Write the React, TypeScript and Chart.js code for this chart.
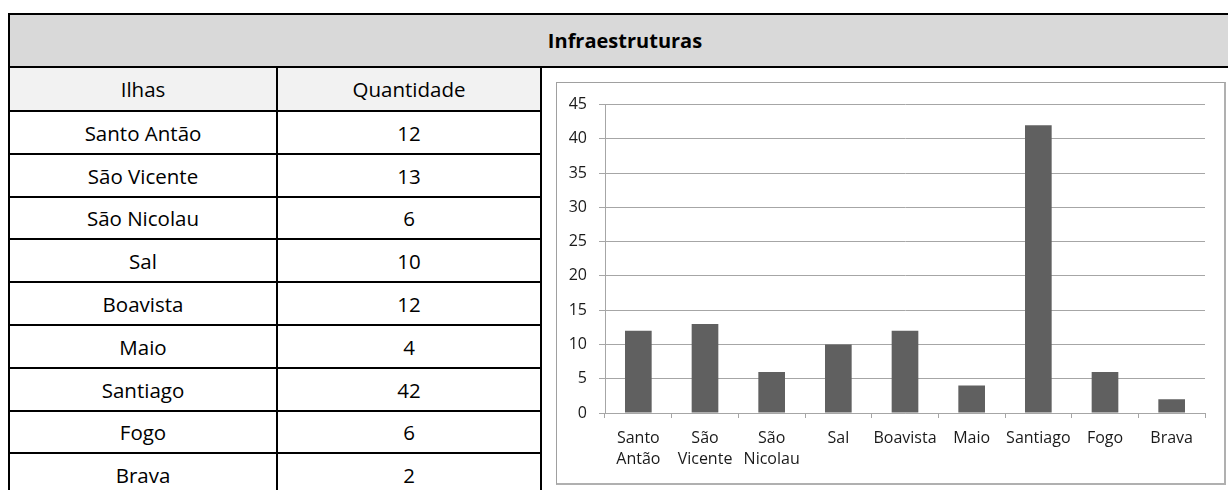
import React, { useEffect, useRef } from "react";
import { Chart, registerables } from "chart.js";

Chart.register(...registerables);

// ---- data ----
const title = "Infraestruturas";
const columnHeaders = ["Ilhas", "Quantidade"];
const islands = ["Santo Antão", "São Vicente", "São Nicolau", "Sal", "Boavista", "Maio", "Santiago", "Fogo", "Brava"];
const quantities = [12, 13, 6, 10, 12, 4, 42, 6, 2];
const axisLabels: (string | string[])[] = [
  ["Santo", "Antão"],
  ["São", "Vicente"],
  ["São", "Nicolau"],
  "Sal",
  "Boavista",
  "Maio",
  "Santiago",
  "Fogo",
  "Brava",
];
const yMin = 0;
const yMax = 45;
const yStep = 5;

// ---- layout ----
const FONT = "'Open Sans', 'Noto Sans', sans-serif";
const LINE = 2;
const LEFT = 8;
const COL1 = 276;
const COL2 = 540;
const TOP = 13;
const TITLE_BOTTOM = 66;
const HEAD_BOTTOM = 110;
const ROW_H = 42.8;
const GRID = "#a6a6a6";

function BarChart() {
  const ref = useRef<HTMLCanvasElement | null>(null);
  useEffect(() => {
    if (!ref.current) return;
    const chart = new Chart(ref.current, {
      type: "bar",
      data: {
        labels: axisLabels,
        datasets: [
          {
            data: quantities,
            backgroundColor: "#606060",
            borderWidth: 0,
            categoryPercentage: 1,
            barPercentage: 0.4,
          },
        ],
      },
      options: {
        animation: false,
        responsive: false,
        maintainAspectRatio: false,
        layout: { padding: { left: 0, right: 19, top: 20, bottom: 0 } },
        plugins: { legend: { display: false }, tooltip: { enabled: false }, title: { display: false } },
        scales: {
          x: {
            grid: {
              display: true,
              drawOnChartArea: false,
              drawTicks: true,
              tickLength: 5,
              color: GRID,
              offset: true,
            },
            border: { display: true, color: GRID, width: 1 },
            ticks: {
              color: "#1a1a1a",
              font: { family: FONT, size: 16, lineHeight: 1.3 },
              padding: 10,
              maxRotation: 0,
              minRotation: 0,
              autoSkip: false,
            },
            afterFit: (s: any) => {
              s.height = 70;
            },
          },
          y: {
            min: yMin,
            max: yMax,
            ticks: {
              stepSize: yStep,
              color: "#1a1a1a",
              font: { family: FONT, size: 16 },
              padding: 12,
            },
            grid: { color: GRID, lineWidth: 1, drawTicks: true, tickLength: 6 },
            border: { display: true, color: GRID, width: 1 },
            afterFit: (s: any) => {
              s.width = 48;
            },
          },
        },
      },
    });
    return () => chart.destroy();
  }, []);
  return <canvas ref={ref} width={667} height={400} style={{ position: "absolute", left: 557, top: 83, width: 667, height: 400 }} />;
}

export default function App() {
  const lineTops = islands.map((_, i) => Math.round(HEAD_BOTTOM + i * ROW_H));
  const abs = (s: React.CSSProperties): React.CSSProperties => ({ position: "absolute", ...s });
  const cellText: React.CSSProperties = {
    position: "absolute",
    display: "flex",
    alignItems: "center",
    justifyContent: "center",
    fontFamily: FONT,
    fontSize: 20.5,
    color: "#000",
    whiteSpace: "nowrap",
  };
  return (
    <div style={{ position: "fixed", left: 0, top: 0, width: 1228, height: 490, overflow: "hidden", background: "#fff" }}>
      {/* title row */}
      <div style={abs({ left: LEFT, top: TOP, width: 1240, height: TITLE_BOTTOM - TOP, background: "#d9d9d9" })} />
      <div style={{ ...cellText, left: LEFT, top: TOP + LINE, width: 1234, height: TITLE_BOTTOM - TOP - LINE, fontWeight: 700, fontSize: 20 }}>{title}</div>
      {/* column header row */}
      <div style={abs({ left: LEFT, top: TITLE_BOTTOM, width: COL2 - LEFT, height: HEAD_BOTTOM - TITLE_BOTTOM, background: "#f2f2f2" })} />
      {columnHeaders.map((h, c) => (
        <div key={h} style={{ ...cellText, left: c === 0 ? LEFT + LINE : COL1 + LINE, top: TITLE_BOTTOM + LINE, width: c === 0 ? COL1 - LEFT - LINE : COL2 - COL1 - LINE, height: HEAD_BOTTOM - TITLE_BOTTOM - LINE }}>{h}</div>
      ))}
      {/* data rows */}
      {islands.map((name, i) => {
        const top = lineTops[i] + LINE;
        const bottom = i + 1 < lineTops.length ? lineTops[i + 1] : Math.round(HEAD_BOTTOM + (i + 1) * ROW_H);
        const h = bottom - top;
        return (
          <React.Fragment key={name}>
            <div style={{ ...cellText, left: LEFT + LINE, top, width: COL1 - LEFT - LINE, height: h }}>{name}</div>
            <div style={{ ...cellText, left: COL1 + LINE, top, width: COL2 - COL1 - LINE, height: h }}>{quantities[i]}</div>
          </React.Fragment>
        );
      })}
      {/* horizontal lines */}
      <div style={abs({ left: LEFT, top: TOP, width: 1240, height: LINE, background: "#000" })} />
      <div style={abs({ left: LEFT, top: TITLE_BOTTOM, width: 1240, height: LINE, background: "#000" })} />
      {lineTops.map((t, i) => (
        <div key={"h" + i} style={abs({ left: LEFT, top: t, width: COL2 - LEFT, height: LINE, background: "#000" })} />
      ))}
      {/* vertical lines */}
      <div style={abs({ left: LEFT, top: TOP, width: LINE, height: 500, background: "#000" })} />
      <div style={abs({ left: COL1, top: TITLE_BOTTOM, width: LINE, height: 500, background: "#000" })} />
      <div style={abs({ left: COL2, top: TITLE_BOTTOM, width: LINE, height: 500, background: "#000" })} />
      {/* chart frame */}
      <div style={abs({ left: 556, top: 82, width: 670, height: 403, boxSizing: "border-box", border: "1px solid #a0a0a0", borderRightWidth: 2, borderBottomWidth: 2, borderRightColor: "#b0b0b0", borderBottomColor: "#b0b0b0" })} />
      <BarChart />
    </div>
  );
}
